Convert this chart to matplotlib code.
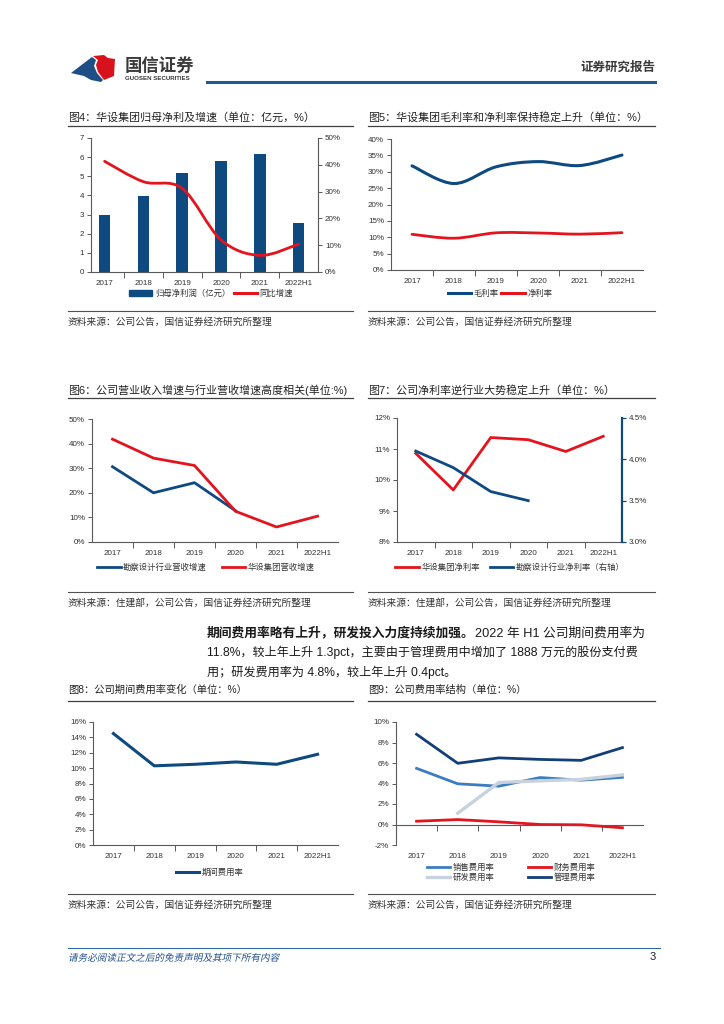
import numpy as np
import matplotlib
matplotlib.use('Agg')
import matplotlib.pyplot as plt
import matplotlib.transforms as mtransforms
from matplotlib.path import Path
from matplotlib.patches import PathPatch, Polygon, Patch
from matplotlib.lines import Line2D
from matplotlib.ticker import FuncFormatter
from matplotlib.textpath import TextPath
from matplotlib.font_manager import FontProperties

plt.rcParams['font.family'] = ['Liberation Sans', 'Noto Sans CJK SC', 'DejaVu Sans']

# ---- data ----
years = ['2017', '2018', '2019', '2020', '2021', '2022H1']
net_profit = [2.97, 3.97, 5.18, 5.80, 6.15, 2.57]          # 亿元
profit_growth = [41.3, 33.7, 31.2, 12.0, 6.2, 10.4]        # %
gross_margin = [31.8, 26.4, 31.5, 33.1, 31.9, 35.1]
net_margin = [10.9, 9.7, 11.35, 11.3, 10.95, 11.4]
industry_rev_growth = [30.6, 20.0, 24.1, 12.7]
company_rev_growth = [41.8, 34.1, 31.1, 12.5, 6.1, 10.5]
company_net_margin = [10.86, 9.68, 11.37, 11.30, 10.92, 11.41]
industry_net_margin = [4.10, 3.90, 3.61, 3.50]
period_exp = [14.5, 10.3, 10.5, 10.8, 10.5, 11.8]
sales_exp = [5.48, 3.97, 3.74, 4.58, 4.32, 4.60]
fin_exp = [0.32, 0.48, 0.26, 0.0, -0.03, -0.32]
rd_exp = [1.1, 4.1, 4.26, 4.4, 4.84]                        # from 2018
admin_exp = [8.8, 5.97, 6.5, 6.35, 6.26, 7.5]

W, H = 724, 1024
NAVY = '#0e4a80'
RED = '#e3141e'
MID = '#3a7dc0'
LIGHT = '#c8d2de'
AX = '#595959'
TXT = '#333333'

fig = plt.figure(figsize=(7.24, 10.24), dpi=100)
bg = fig.add_axes([0, 0, 1, 1])
bg.set_xlim(0, W)
bg.set_ylim(H, 0)
bg.axis('off')


def px_rect(l, t, r, b):
    return [l / W, 1 - b / H, (r - l) / W, (b - t) / H]


def smooth(ax, xs, ys, color, lw):
    pts = np.column_stack([xs, ys]).astype(float)
    verts = [pts[0]]
    codes = [Path.MOVETO]
    n = len(pts)
    for i in range(n - 1):
        p0 = pts[i - 1] if i > 0 else pts[i]
        p1 = pts[i]
        p2 = pts[i + 1]
        p3 = pts[i + 2] if i + 2 < n else pts[i + 1]
        verts += [p1 + (p2 - p0) / 6, p2 - (p3 - p1) / 6, p2]
        codes += [Path.CURVE4] * 3
    ax.add_patch(PathPatch(Path(verts, codes), fill=False, ec=color, lw=lw,
                           capstyle='round', joinstyle='round'))


def base(ax):
    ax.set_facecolor('none')
    ax.spines['top'].set_visible(False)
    ax.spines['right'].set_visible(False)
    for s in ('left', 'bottom'):
        ax.spines[s].set_color(AX)
        ax.spines[s].set_linewidth(0.8)
    ax.tick_params(axis='y', length=3, width=0.7, color=AX, labelsize=5.8,
                   labelcolor=TXT, pad=2)


def cat_axis(ax, lo=0, hi=6):
    ax.set_xlim(lo, hi)
    ax.set_xticks(np.arange(1, 6))
    ax.set_xticklabels([])
    ax.set_xticks(np.arange(6) + 0.5, minor=True)
    ax.set_xticklabels(years, minor=True)
    ax.tick_params(axis='x', which='major', length=4, width=0.7, color=AX)
    ax.tick_params(axis='x', which='minor', length=0, pad=6, labelsize=5.8,
                   labelcolor=TXT)


def pct(fmt='{:.0f}%'):
    return FuncFormatter(lambda v, p: fmt.format(v))


def legend(handles, labels, cx, cy, ncol=2, colsp=1.0, **kw):
    fig.legend(handles, labels, loc='center', bbox_to_anchor=(cx / W, 1 - cy / H),
               ncol=ncol, frameon=False, fontsize=6, handlelength=2.8,
               columnspacing=colsp, handletextpad=0.3, labelcolor=TXT, **kw)


def frame(x0, x1, ty, uy, sy, title, source, tsize=7.9):
    bg.text(x0, ty, title, size=tsize, va='center', ha='left', color='#222222')
    bg.plot([x0, x1], [uy, uy], color='#404040', lw=0.9)
    bg.plot([x0, x1], [sy, sy], color='#505050', lw=0.8)
    bg.text(x0, sy + 11, source, size=7, va='center', ha='left', color=TXT)


# ---- header ----
bg.add_patch(Polygon([(71, 73), (92, 57), (96, 60), (94, 66), (97, 73), (103, 80),
                      (101, 82), (91, 80), (84, 76)], closed=True, fc='#1d4f86', ec='none'))
bg.add_patch(Polygon([(93, 56), (104, 55), (108, 58), (115, 59), (114, 76), (104, 80),
                      (98, 72), (96, 65), (98, 60)], closed=True, fc='#d8121c', ec='none'))
bg.text(125, 65, '国信证券', size=12.5, weight='bold', color='#3a3a3a', va='center')
bg.text(125, 78.5, 'GUOSEN SECURITIES', size=4.4, weight='bold', color='#3a3a3a', va='center')
bg.plot([207, 655], [82, 82], color='#1f5b93', lw=2.2)
bg.text(655, 68, '证券研究报告', size=9, weight='bold', color='#3a3a3a', va='center', ha='right')

xc = np.arange(6) + 0.5

# ---- 图4 ----
frame(68, 353, 117, 126, 311, '图4：华设集团归母净利及增速（单位：亿元，%）',
      '资料来源：公司公告，国信证券经济研究所整理')
ax4 = fig.add_axes(px_rect(91, 138, 318, 272))
base(ax4)
cat_axis(ax4, 0.15, 6)
ax4.bar(xc, net_profit, width=0.3, color=NAVY)
ax4.set_ylim(0, 7)
ax4.set_yticks(range(8))
ax4b = ax4.twinx()
ax4b.set_facecolor('none')
ax4b.set_ylim(0, 50)
ax4b.set_yticks(range(0, 51, 10))
ax4b.yaxis.set_major_formatter(pct())
for s in ('top', 'left', 'bottom'):
    ax4b.spines[s].set_visible(False)
ax4b.spines['right'].set_color(AX)
ax4b.spines['right'].set_linewidth(0.8)
ax4b.tick_params(axis='y', length=3, width=0.7, color=AX, labelsize=5.8, labelcolor=TXT, pad=2)
smooth(ax4b, xc, profit_growth, RED, 2.0)
legend([Patch(color=NAVY), Line2D([], [], color=RED, lw=2.2)],
       ['归母净利润（亿元）', '同比增速'], 211, 294, colsp=0.4)

# ---- 图5 ----
frame(368, 655, 117, 126, 311, '图5：华设集团毛利率和净利率保持稳定上升（单位：%）',
      '资料来源：公司公告，国信证券经济研究所整理')
ax5 = fig.add_axes(px_rect(391, 139, 643, 270))
base(ax5)
cat_axis(ax5)
ax5.set_ylim(0, 40)
ax5.set_yticks(range(0, 41, 5))
ax5.yaxis.set_major_formatter(pct())
smooth(ax5, xc, gross_margin, NAVY, 2.2)
smooth(ax5, xc, net_margin, RED, 2.0)
legend([Line2D([], [], color=NAVY, lw=2.2), Line2D([], [], color=RED, lw=2.2)],
       ['毛利率', '净利率'], 500, 294, colsp=0.3)

# ---- 图6 ----
frame(68, 353, 390, 398, 592, '图6：公司营业收入增速与行业营收增速高度相关(单位:%)',
      '资料来源：住建部，公司公告，国信证券经济研究所整理')
ax6 = fig.add_axes(px_rect(92, 419, 338, 542))
base(ax6)
cat_axis(ax6)
ax6.set_ylim(0, 50)
ax6.set_yticks(range(0, 51, 10))
ax6.yaxis.set_major_formatter(pct())
ax6.plot(xc[:4], industry_rev_growth, color=NAVY, lw=2.0, label='勘察设计行业营收增速')
ax6.plot(xc, company_rev_growth, color=RED, lw=2.0, label='华设集团营收增速')
h, l = ax6.get_legend_handles_labels()
legend(h, l, 206, 568, colsp=1.8)

# ---- 图7 ----
frame(368, 655, 390, 398, 592, '图7：公司净利率逆行业大势稳定上升（单位：%）',
      '资料来源：住建部，公司公告，国信证券经济研究所整理')
ax7 = fig.add_axes(px_rect(397, 418, 622, 542))
base(ax7)
cat_axis(ax7)
ax7.set_ylim(8, 12)
ax7.set_yticks(range(8, 13))
ax7.yaxis.set_major_formatter(pct())
l1, = ax7.plot(xc, company_net_margin, color=RED, lw=2.0)
ax7b = ax7.twinx()
ax7b.set_facecolor('none')
ax7b.set_ylim(3.0, 4.5)
ax7b.set_yticks([3.0, 3.5, 4.0, 4.5])
ax7b.yaxis.set_major_formatter(pct('{:.1f}%'))
for s in ('top', 'left', 'bottom'):
    ax7b.spines[s].set_visible(False)
ax7b.spines['right'].set_color(NAVY)
ax7b.spines['right'].set_linewidth(1.6)
ax7b.tick_params(axis='y', length=3, width=0.9, color=NAVY, labelsize=5.8, labelcolor=TXT, pad=2)
l2, = ax7b.plot(xc[:4], industry_net_margin, color=NAVY, lw=2.0)
legend([l1, l2], ['华设集团净利率', '勘察设计行业净利率（右轴）'], 510, 568, colsp=1.2)

# ---- 正文 ----
para_y = [633, 652, 672]
pcol = '#1a1a1a'
para_x0 = 207
r = fig.canvas.get_renderer()
t1 = bg.text(para_x0, para_y[0], '期间费用率略有上升，研发投入力度持续加强。', size=9.2,
             weight='bold', va='center', color=pcol)
x_end = t1.get_window_extent(r).x1
bg.text(x_end, para_y[0], '2022 年 H1 公司期间费用率为', size=9.2, va='center', color=pcol)
bg.text(para_x0, para_y[1], '11.8%，较上年上升 1.3pct，主要由于管理费用中增加了 1888 万元的股份支付费',
        size=8.7, va='center', color=pcol)
bg.text(para_x0, para_y[2], '用；研发费用率为 4.8%，较上年上升 0.4pct。', size=8.7,
        va='center', color=pcol)

# ---- 图8 ----
frame(68, 353, 690, 701, 894, '图8：公司期间费用率变化（单位：%）',
      '资料来源：公司公告，国信证券经济研究所整理', tsize=7.4)
ax8 = fig.add_axes(px_rect(93, 722, 338, 845))
base(ax8)
cat_axis(ax8)
ax8.set_ylim(0, 16)
ax8.set_yticks(range(0, 17, 2))
ax8.yaxis.set_major_formatter(pct())
ax8.plot(xc, period_exp, color=NAVY, lw=2.2, label='期间费用率')
h, l = ax8.get_legend_handles_labels()
legend(h, l, 210, 873, ncol=1)

# ---- 图9 ----
frame(368, 655, 690, 701, 894, '图9：公司费用率结构（单位：%）',
      '资料来源：公司公告，国信证券经济研究所整理', tsize=7.4)
ax9 = fig.add_axes(px_rect(396, 722, 643, 845))
base(ax9)
ax9.spines['bottom'].set_position(('data', 0))
ax9.set_xlim(0, 6)
ax9.set_xticks(np.arange(1, 6))
ax9.set_xticklabels([])
ax9.tick_params(axis='x', length=4, width=0.7, color=AX)
tr = mtransforms.blended_transform_factory(ax9.transData, ax9.transAxes)
for x, yl in zip(xc, years):
    ax9.text(x, -0.09, yl, transform=tr, ha='center', va='center', size=5.8, color=TXT)
ax9.set_ylim(-2, 10)
ax9.set_yticks(range(-2, 11, 2))
ax9.yaxis.set_major_formatter(pct())
ax9.plot(xc, sales_exp, color=MID, lw=2.0, label='销售费用率')
ax9.plot(xc[1:], rd_exp, color=LIGHT, lw=2.4, label='研发费用率')
ax9.plot(xc, fin_exp, color=RED, lw=2.0, label='财务费用率')
ax9.plot(xc, admin_exp, color='#123f78', lw=2.0, label='管理费用率')
h, l = ax9.get_legend_handles_labels()
legend(h, l, 511, 873, colsp=4.0, labelspacing=0.15)

# ---- footer ----
bg.plot([68, 660], [948, 948], color='#2e6aa6', lw=0.8)
foot = TextPath((0, 0), '请务必阅读正文之后的免责声明及其项下所有内容', size=9.6,
                prop=FontProperties(family='Noto Sans CJK SC'))
foot_tr = mtransforms.Affine2D().skew_deg(12, 0).scale(1, -1).translate(68, 961) + bg.transData
bg.add_patch(PathPatch(foot, fc='#1f4e8c', ec='none', transform=foot_tr))
bg.text(656, 957, '3', size=8, color='#222222', va='center', ha='right')

fig.savefig('out.png', dpi=100)
